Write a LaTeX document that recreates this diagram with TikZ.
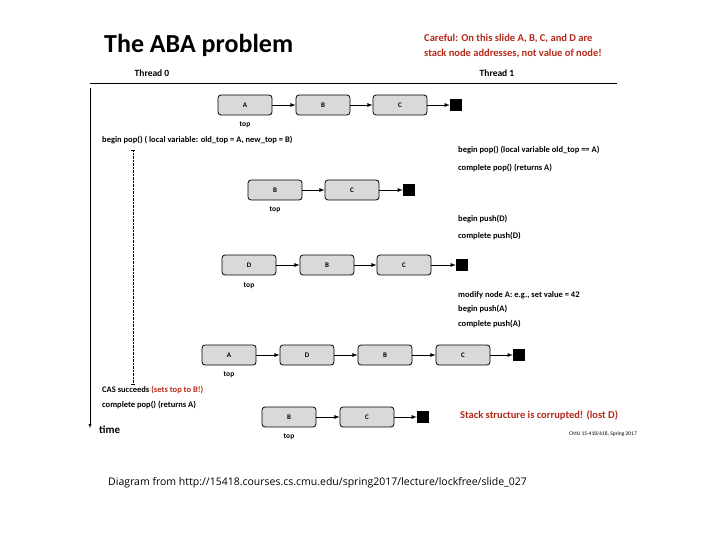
\documentclass[tikz,border=0pt]{standalone}
\usepackage{fontspec}
\setmainfont{Carlito}
\newfontfamily\footfont{Open Sans}
\definecolor{slidered}{RGB}{180,40,25}
\tikzset{
	cell/.style={draw, thick, rounded corners=3pt, fill=black!15, minimum width=54pt, minimum height=20pt, font=\bfseries\fontsize{7}{8}\selectfont},
	nil/.style={fill=black, minimum size=12pt, inner sep=0pt},
	link/.style={-latex, thick},
	lbl/.style={font=\bfseries\fontsize{8.5}{10}\selectfont, anchor=west, inner sep=0pt},
	toplbl/.style={font=\bfseries\fontsize{7.5}{9}\selectfont, inner sep=0pt}
}
\begin{document}
\begin{tikzpicture}[x=1pt,y=-1pt]
		\useasboundingbox (0,0) rectangle (720,540);
		\node[anchor=west, inner sep=0pt, font=\bfseries\fontsize{26}{28}\selectfont] (title) at (104,45) {The ABA problem};
		\node[anchor=west, inner sep=0pt, align=left, text=slidered, font=\bfseries\fontsize{10.5}{15}\selectfont] (careful) at (424,46) {Careful: On this slide A, B, C, and D are\\stack node addresses, not value of node!};
		\node[toplbl, font=\bfseries\fontsize{9.5}{11}\selectfont] (t0) at (152,73) {Thread 0};
		\node[toplbl, font=\bfseries\fontsize{9.5}{11}\selectfont] (t1) at (497,73) {Thread 1};
		\coordinate (rulel) at (90,83);
		\coordinate (ruler) at (617,83);
		\draw[thick] (rulel) -- (ruler);
		%time axis
		\coordinate (time0) at (90,88);
		\coordinate (time1) at (90,428);
		\draw[-latex] (time0) -- (time1);
		\node[lbl, font=\bfseries\fontsize{11}{12}\selectfont] (time) at (99,430) {time};
		\coordinate (wait0) at (133,150);
		\coordinate (wait1) at (133,384);
		\draw[densely dotted] (wait0) -- (wait1);
		\draw ([xshift=-2pt]wait0) -- ([xshift=2pt]wait0);
		\draw ([xshift=-2pt]wait1) -- ([xshift=2pt]wait1);
		%row 1
		\node[cell] (a1) at (245,105) {A};
		\node[cell] (b1) at (323,105) {B};
		\node[cell] (c1) at (400,105) {C};
		\node[nil] (n1) at (456,105) {};
		\draw[link] (a1) -- (b1);
		\draw[link] (b1) -- (c1);
		\draw[link] (c1) -- (n1);
		\node[toplbl] (top1) at (245,125) {top};
		%row 2
		\node[cell] (b2) at (275,190) {B};
		\node[cell] (c2) at (352,190) {C};
		\node[nil] (n2) at (409,190) {};
		\draw[link] (b2) -- (c2);
		\draw[link] (c2) -- (n2);
		\node[toplbl] (top2) at (275,210) {top};
		%row 3
		\node[cell] (d3) at (249,265) {D};
		\node[cell] (b3) at (327,265) {B};
		\node[cell] (c3) at (404,265) {C};
		\node[nil] (n3) at (462,265) {};
		\draw[link] (d3) -- (b3);
		\draw[link] (b3) -- (c3);
		\draw[link] (c3) -- (n3);
		\node[toplbl] (top3) at (249,286) {top};
		%row 4
		\node[cell] (a4) at (229,355) {A};
		\node[cell] (d4) at (307,355) {D};
		\node[cell] (b4) at (385,355) {B};
		\node[cell] (c4) at (463,355) {C};
		\node[nil] (n4) at (519,355) {};
		\draw[link] (a4) -- (d4);
		\draw[link] (d4) -- (b4);
		\draw[link] (b4) -- (c4);
		\draw[link] (c4) -- (n4);
		\node[toplbl] (top4) at (229,375) {top};
		%row 5
		\node[cell] (b5) at (289,417) {B};
		\node[cell] (c5) at (367,417) {C};
		\node[nil] (n5) at (423,417) {};
		\draw[link] (b5) -- (c5);
		\draw[link] (c5) -- (n5);
		\node[toplbl] (top5) at (289,437) {top};
		%thread 0 text
		\node[lbl] (pop0) at (102,140) {begin pop() ( local variable: old\_top = A, new\_top = B)};
		\node[lbl] (cas) at (102,390) {CAS succeeds \textcolor{slidered}{(sets top to B!)}};
		\node[lbl] (done0) at (102,405) {complete pop() (returns A)};
		%thread 1 text
		\node[lbl] (pop1) at (458,150) {begin pop() (local variable old\_top == A)};
		\node[lbl] (done1) at (458,168) {complete pop() (returns A)};
		\node[lbl] (pushd) at (458,219) {begin push(D)};
		\node[lbl] (donepushd) at (458,236) {complete push(D)};
		\node[lbl] (modify) at (458,295) {modify node A: e.g., set value = 42};
		\node[lbl] (pusha) at (458,309) {begin push(A)};
		\node[lbl] (donepusha) at (458,324) {complete push(A)};
		\node[lbl, text=slidered, font=\bfseries\fontsize{10.5}{12}\selectfont] (lost) at (460,415) {Stack structure is corrupted! (lost D)};
		\node[anchor=east, inner sep=0pt, font=\fontsize{5.5}{6}\selectfont] (cmu) at (637,434) {CMU 15-418/618, Spring 2017};
		\node[anchor=west, inner sep=0pt, font=\footfont\fontsize{10.5}{12}\selectfont] (src) at (108,483) {Diagram from http://15418.courses.cs.cmu.edu/spring2017/lecture/lockfree/slide\_027};
	\end{tikzpicture}
\end{document}
